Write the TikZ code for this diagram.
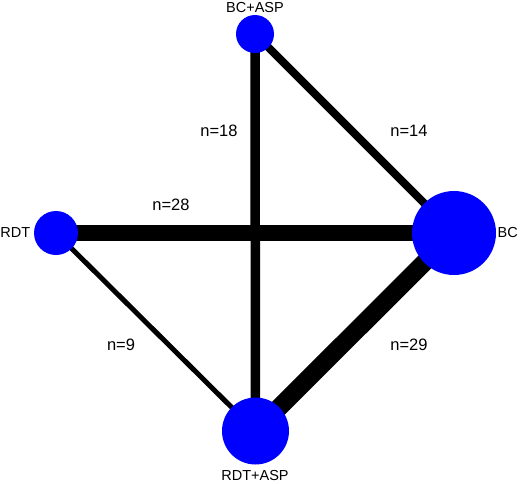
\documentclass[tikz,border=0pt]{standalone}
\usepackage{fontspec}
\setmainfont{Liberation Sans}
\usetikzlibrary{backgrounds}
\definecolor{nodeblue}{RGB}{0,0,255}
\tikzset{
  trt/.style={circle, fill=nodeblue, draw=none, inner sep=0pt, minimum size=#1},
  lbl/.style={font=\fontsize{14.5}{16}\selectfont, inner sep=0pt},
  elbl/.style={font=\fontsize{16.5}{18}\selectfont, inner sep=0pt},
  edge/.style={line width=#1, draw=black}
}
\begin{document}
\begin{tikzpicture}[x=1pt, y=-1pt]
\useasboundingbox (0,0) rectangle (520,483);
\node[trt=38pt] (bcasp) at (255,34) {};
\node[trt=44pt] (rdt) at (56,233) {};
\node[trt=84pt] (bc) at (454,233) {};
\node[trt=67pt] (rdtasp) at (255.5,431) {};
\node[lbl] (lbcasp) at (255,8) {BC+ASP};
\node[lbl, anchor=east] (lrdt) at (30.5,233) {RDT};
\node[lbl, anchor=west] (lbc) at (497.5,233) {BC};
\node[lbl] (lrdtasp) at (255,475.5) {RDT+ASP};
\node[elbl] (e1) at (219,131) {n=18};
\node[elbl] (e2) at (409,131) {n=14};
\node[elbl] (e3) at (171,205) {n=28};
\node[elbl] (e4) at (121,345) {n=9};
\node[elbl] (e5) at (409,345) {n=29};
\begin{pgfonlayer}{background}
\draw[edge=9.5pt] (bcasp.center) -- (rdtasp.center);
\draw[edge=8pt] (bcasp.center) -- (bc.center);
\draw[edge=16pt] (rdt.center) -- (bc.center);
\draw[edge=5pt] (rdt.center) -- (rdtasp.center);
\draw[edge=18pt] (bc.center) -- (rdtasp.center);
\end{pgfonlayer}
\end{tikzpicture}
\end{document}
